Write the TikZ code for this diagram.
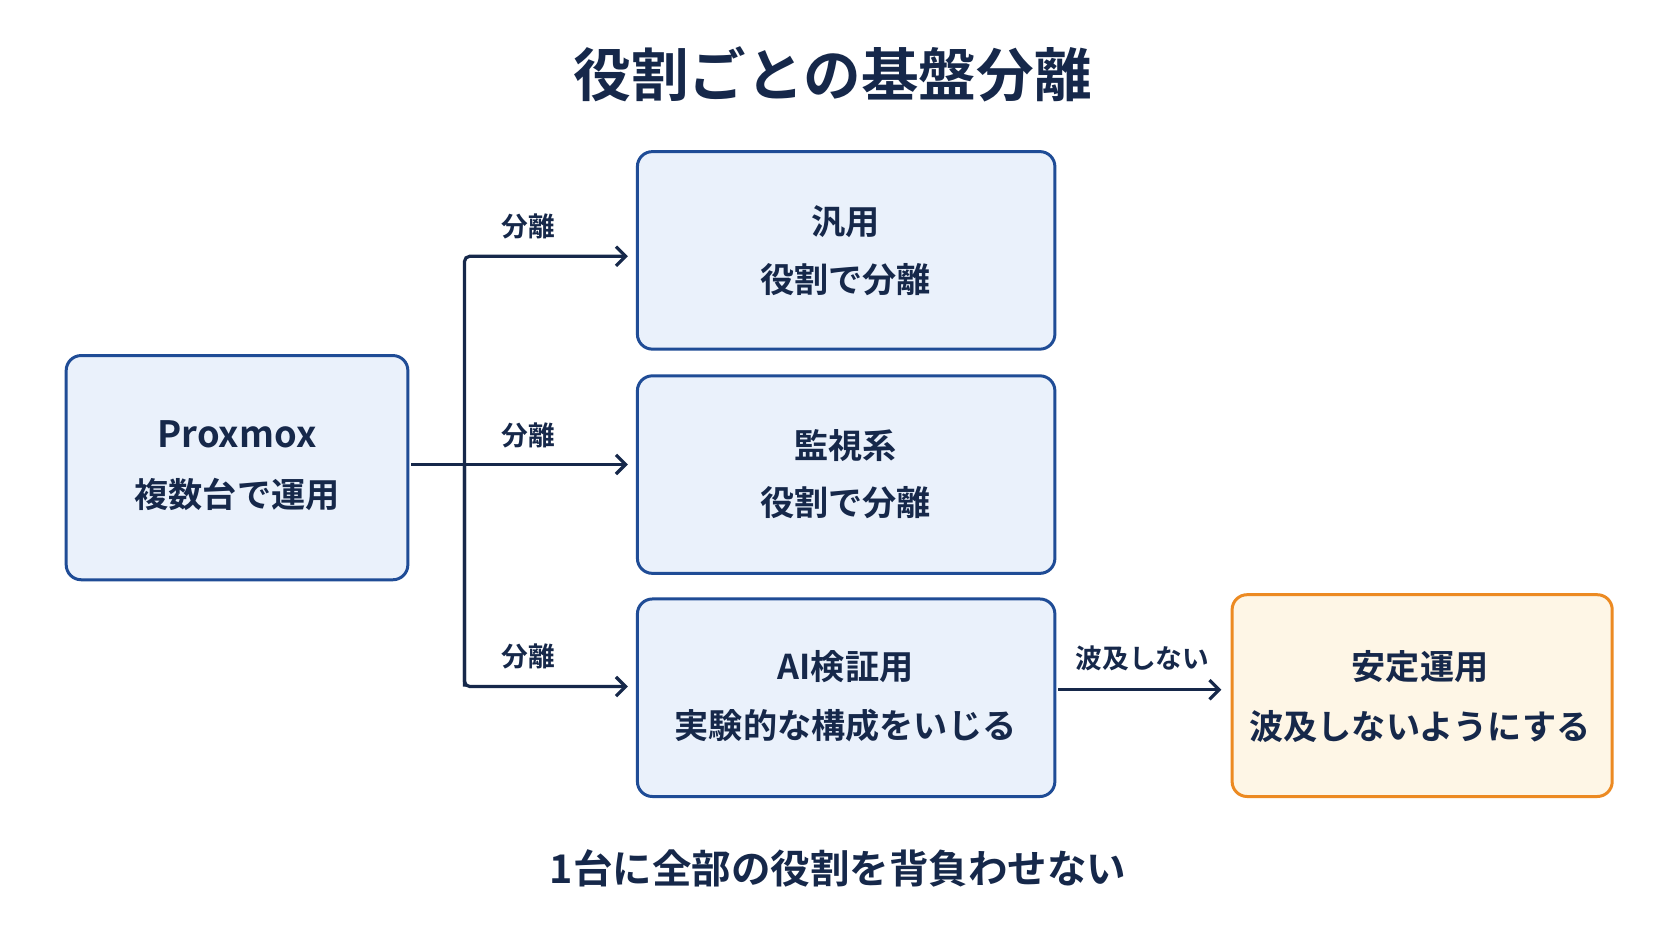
\documentclass[tikz,border=0pt]{standalone}
\usepackage{fontspec}
\setmainfont{Noto Sans CJK JP}[BoldFont={* Bold}]
\newfontfamily\jp{Noto Sans CJK JP Bold}
\usetikzlibrary{arrows.meta}
\definecolor{navy}{HTML}{16284A}
\definecolor{bblue}{HTML}{1F4C96}
\definecolor{bfill}{HTML}{EAF1FB}
\definecolor{oborder}{HTML}{EC8A22}
\definecolor{ofill}{HTML}{FEF6E6}
\begin{document}
\begin{tikzpicture}[x=1pt,y=-1pt,
 box/.style={draw=bblue,line width=2.8pt,fill=bfill,rounded corners=14pt},
 obox/.style={draw=oborder,line width=2.8pt,fill=ofill,rounded corners=14pt},
 txt/.style={text=navy,font=\jp\fontsize{32}{36}\selectfont,anchor=center},
 lab/.style={text=navy,font=\jp\fontsize{25}{28}\selectfont,anchor=center},
 arr/.style={draw=navy,line width=3pt,-{Straight Barb[length=9pt,width=18pt,line width=3pt]}}]
\useasboundingbox (0,0) rectangle (1566,881);
\fill[white] (0,0) rectangle (1566,881);
\node[txt,font=\jp\fontsize{54}{58}\selectfont] (title) at (780,70) {役割ごとの基盤分離};
\draw[box] (62,333) rectangle (382,543);
\draw[box] (597,142) rectangle (988,327);
\draw[box] (597,352) rectangle (988,537);
\draw[box] (597,561) rectangle (988,746);
\draw[obox] (1154,557) rectangle (1510,746);
\node[txt,font=\jp\fontsize{34}{38}\selectfont] (p1) at (222,407) {Proxmox};
\node[txt] (p2) at (222,463) {複数台で運用};
\node[txt] (g1) at (792,208) {汎用};
\node[txt] (g2) at (792,262) {役割で分離};
\node[txt] (m1) at (792,417) {監視系};
\node[txt] (m2) at (792,471) {役割で分離};
\node[txt] (a1) at (792,624) {AI検証用};
\node[txt] (a2) at (792,680) {実験的な構成をいじる};
\node[txt] (s1) at (1330,624) {安定運用};
\node[txt] (s2) at (1330,680) {波及しないようにする};
\coordinate (pout) at (385,435);
\coordinate (t1) at (435,240); \coordinate (t3) at (435,643);
\coordinate (e1) at (588,240); \coordinate (e2) at (588,435); \coordinate (e3) at (588,643);
\draw[arr] (pout) -- (e2);
\draw[arr,rounded corners=5pt] (t3) -- (t1) -- (e1);
\draw[arr,rounded corners=5pt] (435,435) -- (t3) -- (e3);
\node[lab] (l1) at (495,212) {分離};
\node[lab] (l2) at (495,408) {分離};
\node[lab] (l3) at (495,615) {分離};
\coordinate (aout) at (991,646); \coordinate (sin) at (1144,646);
\draw[arr] (aout) -- (sin);
\node[lab] (l4) at (1070,617) {波及しない};
\node[txt,font=\jp\fontsize{37}{40}\selectfont] (foot) at (785,813) {1台に全部の役割を背負わせない};
\end{tikzpicture}
\end{document}
